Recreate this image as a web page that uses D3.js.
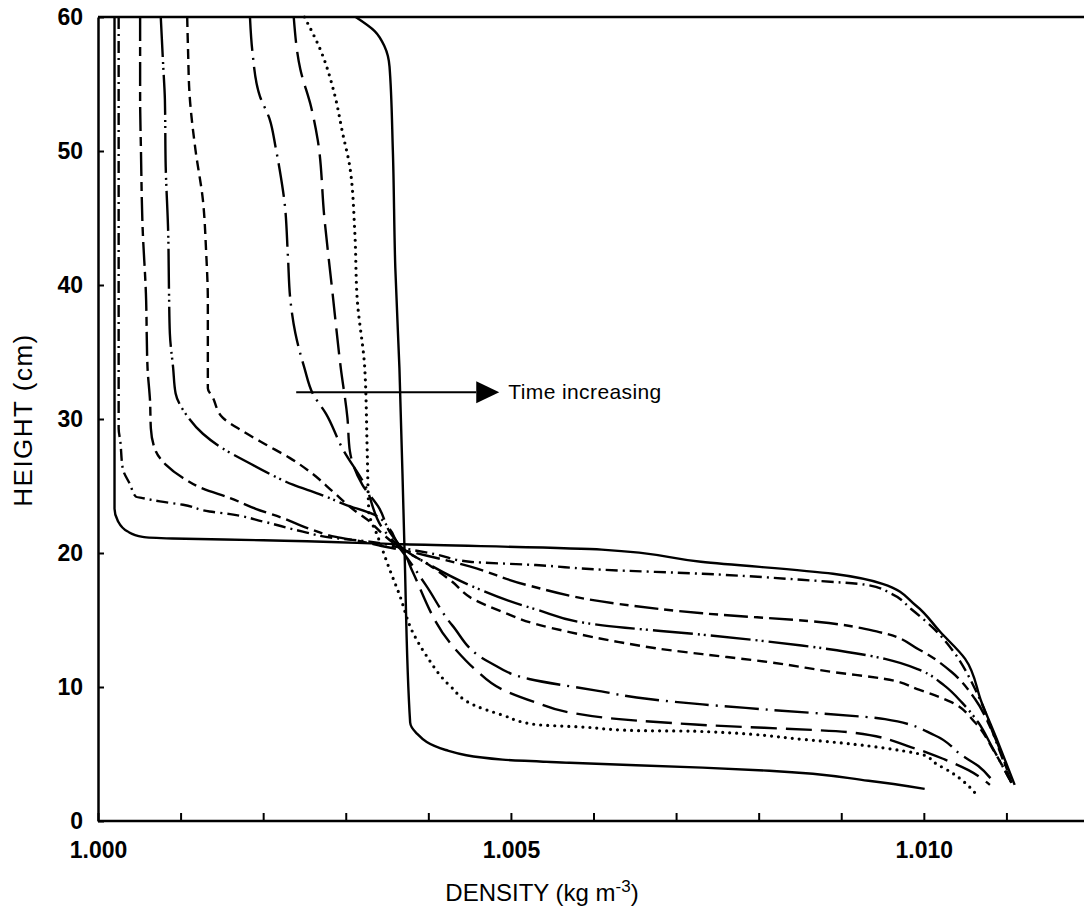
<!DOCTYPE html>
<html>
<head>
<meta charset="utf-8">
<script src="https://cdn.jsdelivr.net/npm/d3@7"></script>
<style>
  body { margin: 0; background: #fff; }
  svg { display: block; }
  text { font-family: "Liberation Sans", Arial, sans-serif; fill: #000; }
</style>
</head>
<body>
<svg id="chart" width="1084" height="917"></svg>
<script>
// density profiles [density, height], earliest (sharp interface) to latest (well mixed)
var prof1 = [[1.0002,60],[1.0002,30],[1.0002,23.3],[1.00024,22.4],[1.00036,21.6],[1.00054,21.2],[1.0009,21.08],[1.002,20.95],[1.0037,20.65],[1.0061,20.25],[1.0073,19.35],[1.0089,18.45],[1.0095,17.7],[1.0099,16.1],[1.0102,14.1],[1.0105,12.1],[1.0107,8.85],[1.0109,5.85],[1.0111,2.7]];
var prof2 = [[1.00025,60],[1.00025,31.4],[1.00025,29.3],[1.00027,28.35],[1.0003,26.3],[1.00039,25.1],[1.00046,24.2],[1.00054,24.1],[1.00075,23.85],[1.00103,23.6],[1.00135,23.1],[1.0016,22.9],[1.002,22.35],[1.00248,21.6],[1.00288,21.1],[1.00329,20.85],[1.00366,20.4],[1.00409,19.9],[1.0045,19.35],[1.0053,19.1],[1.00611,18.75],[1.00732,18.45],[1.00852,18.0],[1.00933,17.6],[1.00961,16.95],[1.00985,15.8],[1.01013,14.3],[1.01034,12.8],[1.01064,9.6],[1.01088,5.85],[1.01106,2.85]];
var prof3 = [[1.00051,60],[1.00051,53.85],[1.00052,50.1],[1.00054,44.3],[1.00058,39.4],[1.0006,33.8],[1.00063,31.35],[1.00064,29.3],[1.0007,27.6],[1.00082,26.6],[1.00103,25.6],[1.00127,24.8],[1.0016,24.1],[1.00191,23.3],[1.00224,22.6],[1.00256,21.8],[1.00288,21.2],[1.0032,20.85],[1.00345,20.5],[1.00366,20.25],[1.00405,19.7],[1.0045,19.0],[1.0052,17.6],[1.0063,16.2],[1.00732,15.5],[1.00873,14.85],[1.00946,14.1],[1.00994,12.8],[1.01034,11.1],[1.01062,9.1],[1.01082,6.8],[1.01106,2.85]];
var prof4 = [[1.00076,60],[1.00079,56.3],[1.00081,53.85],[1.00082,48.8],[1.00085,43.9],[1.00086,39.4],[1.00087,36.4],[1.00091,33.8],[1.00094,31.9],[1.00106,30.4],[1.00127,28.9],[1.00151,27.8],[1.00179,26.85],[1.00208,25.9],[1.00236,25.1],[1.00268,24.4],[1.003,23.6],[1.00333,22.9],[1.00353,21.8],[1.00366,20.5],[1.00405,19.0],[1.0045,17.6],[1.0053,15.8],[1.00611,14.6],[1.00732,13.9],[1.00852,13.1],[1.00953,12.1],[1.00994,11.3],[1.01025,10.1],[1.01046,8.85],[1.01066,7.35],[1.01082,5.6],[1.01106,2.85]];
var prof5 = [[1.00108,60],[1.00109,57.6],[1.00111,54.1],[1.00118,50.1],[1.00127,46.35],[1.00131,42.4],[1.00133,38.85],[1.00133,32.3],[1.00139,31.6],[1.00151,30.1],[1.00175,29.1],[1.00203,28.1],[1.00232,27.1],[1.0026,25.9],[1.00284,24.6],[1.00308,23.3],[1.00329,22.35],[1.00345,21.4],[1.00363,20.5],[1.00401,19.1],[1.00429,17.85],[1.00453,16.6],[1.0049,15.6],[1.0053,14.7],[1.00571,14.1],[1.00631,13.35],[1.00692,12.75],[1.00732,12.45],[1.00813,11.85],[1.00892,11.1],[1.00953,10.6],[1.00994,9.8],[1.01034,8.85],[1.01062,7.35],[1.01086,5.1],[1.01106,2.85]];
var prof6 = [[1.00184,60],[1.00187,57.4],[1.00196,54.1],[1.00208,52.35],[1.00215,50.3],[1.0022,48.6],[1.00226,46.1],[1.0023,42.1],[1.00233,38.85],[1.00239,36.4],[1.0025,33.8],[1.0026,31.9],[1.00276,30.4],[1.00296,27.8],[1.00323,25.1],[1.00345,21.8],[1.00366,20.3],[1.00397,17.6],[1.00429,14.6],[1.00474,11.85],[1.00522,10.6],[1.00602,9.75],[1.00667,9.1],[1.00732,8.7],[1.00813,8.3],[1.00953,7.6],[1.01013,6.4],[1.01046,4.9],[1.01066,4.1],[1.01082,3.1]];
var prof7 = [[1.00237,60],[1.00245,56.1],[1.00258,53.3],[1.00266,50.85],[1.00274,45.1],[1.00284,39.4],[1.00294,33.8],[1.00302,30.1],[1.00305,27.6],[1.0032,25.1],[1.00341,23.3],[1.00353,21.6],[1.00369,20.25],[1.00381,18.6],[1.00433,12.8],[1.00457,11.3],[1.0049,9.8],[1.0053,8.85],[1.00571,8.1],[1.00631,7.6],[1.00723,7.2],[1.00913,6.6],[1.00985,5.5],[1.01025,4.6],[1.01054,3.8],[1.0108,2.7]];
var prof8 = [[1.0025,60],[1.0027,57.45],[1.00287,54.1],[1.00296,51.4],[1.00305,48.8],[1.00311,43.9],[1.00314,38.85],[1.00323,33.8],[1.00326,27.6],[1.00328,23.1],[1.00339,21.2],[1.00353,18.8],[1.00365,16.9],[1.00381,14.1],[1.00397,12.4],[1.00426,10.1],[1.00457,8.6],[1.0049,7.9],[1.0053,7.2],[1.0059,7.0],[1.0065,6.75],[1.00723,6.7],[1.00852,6.1],[1.00933,5.6],[1.00973,5.25],[1.01001,4.9],[1.01013,4.35],[1.01034,3.6],[1.0105,2.85],[1.01062,2.1]];
var prof9 = [[1.00312,60],[1.00335,58.95],[1.00347,57.8],[1.00353,56.3],[1.00357,50.1],[1.0036,41.3],[1.00365,33.8],[1.00371,20.6],[1.00378,7.35],[1.00385,6.6],[1.00421,5.3],[1.0049,4.58],[1.00571,4.35],[1.00732,3.98],[1.00813,3.75],[1.00933,3.0],[1.01001,2.4]];

var profiles = [prof1, prof2, prof3, prof4, prof5, prof6, prof7, prof8, prof9];
var dashes = ['none', '12,5,2,5', '24,6,9,6', '40,5,2,4,2,5', '10,6', '34,7,2,7', '26,9', '0,7', 'none'];

var xTicks = [1.000,1.001,1.002,1.003,1.004,1.005,1.006,1.007,1.008,1.009,1.010,1.011];
var xLabels = [1.000, 1.005, 1.010];
var yTicks = [0,10,20,30,40,50,60];

var svg = d3.select('#chart');

var x = d3.scaleLinear()
    .domain([1.000, 1.012])
    .range([98, 1089]);
var y = d3.scaleLinear()
    .domain([0, 60])
    .range([821, 17]);

// frame: top line runs off the right edge like the scan
svg.append('line')
    .attr('x1', x(1.000)).attr('x2', 1084)
    .attr('y1', y(60)).attr('y2', y(60))
    .attr('stroke', '#000').attr('stroke-width', 2.5);

var xAxis = d3.axisBottom(x)
    .tickValues(xTicks)
    .tickSizeInner(-8)
    .tickSizeOuter(0)
    .tickPadding(21)
    .tickFormat(function(d){
        return xLabels.some(function(v){ return Math.abs(v - d) < 1e-9; }) ? d3.format('.3f')(d) : '';
    });
var gx = svg.append('g')
    .attr('transform', 'translate(0,' + y(0) + ')')
    .call(xAxis);
gx.select('.domain').attr('stroke-width', 2.5).attr('d', 'M' + x(1.000) + ',0H1084');
gx.selectAll('.tick line').attr('stroke-width', 2);
gx.selectAll('.tick text')
    .style('font-size', '23px').style('font-weight', 'bold');

var yAxis = d3.axisLeft(y)
    .tickValues(yTicks)
    .tickSizeInner(-6)
    .tickSizeOuter(0)
    .tickPadding(15);
var gy = svg.append('g')
    .attr('transform', 'translate(' + x(1.000) + ',0)')
    .call(yAxis);
gy.select('.domain').attr('stroke-width', 2.5);
gy.selectAll('.tick line').attr('stroke-width', 2);
gy.selectAll('.tick text')
    .style('font-size', '23px').style('font-weight', 'bold');

// axis titles
var xt = svg.append('text')
    .attr('x', 542).attr('y', 901)
    .attr('text-anchor', 'middle')
    .style('font-size', '24px');
xt.append('tspan').text('DENSITY (kg m');
xt.append('tspan').attr('baseline-shift', 'super').style('font-size', '17px').text('-3');
xt.append('tspan').text(')');

svg.append('text')
    .attr('transform', 'translate(32,420) rotate(-90)')
    .attr('text-anchor', 'middle')
    .style('font-size', '26px')
    .style('letter-spacing', '1.5px')
    .text('HEIGHT (cm)');

// profiles
var line = d3.line()
    .x(function(d){ return x(d[0]); })
    .y(function(d){ return y(d[1]); })
    .curve(d3.curveMonotoneY);

svg.append('g').selectAll('path')
    .data(profiles)
    .enter().append('path')
    .attr('d', line)
    .attr('fill', 'none')
    .attr('stroke', '#000')
    .attr('stroke-width', function(d, i){ return i == 7 ? 3.2 : 2.4; })
    .attr('stroke-linecap', function(d, i){ return i == 7 ? 'round' : 'butt'; })
    .attr('stroke-dasharray', function(d, i){ return dashes[i]; });

// "Time increasing" arrow
var arrowY = y(32);
var tipX = x(1.00458);
svg.append('line')
    .attr('x1', x(1.00240)).attr('x2', tipX)
    .attr('y1', arrowY).attr('y2', arrowY)
    .attr('stroke', '#000').attr('stroke-width', 2);
svg.append('path')
    .attr('d', 'M' + tipX + ',' + (arrowY - 11) + 'L' + (tipX + 23) + ',' + arrowY + 'L' + tipX + ',' + (arrowY + 11) + 'Z')
    .attr('fill', '#000');
svg.append('text')
    .attr('x', tipX + 32).attr('y', arrowY + 7)
    .style('font-size', '21px')
    .style('letter-spacing', '0.4px')
    .text('Time increasing');
</script>
</body>
</html>
